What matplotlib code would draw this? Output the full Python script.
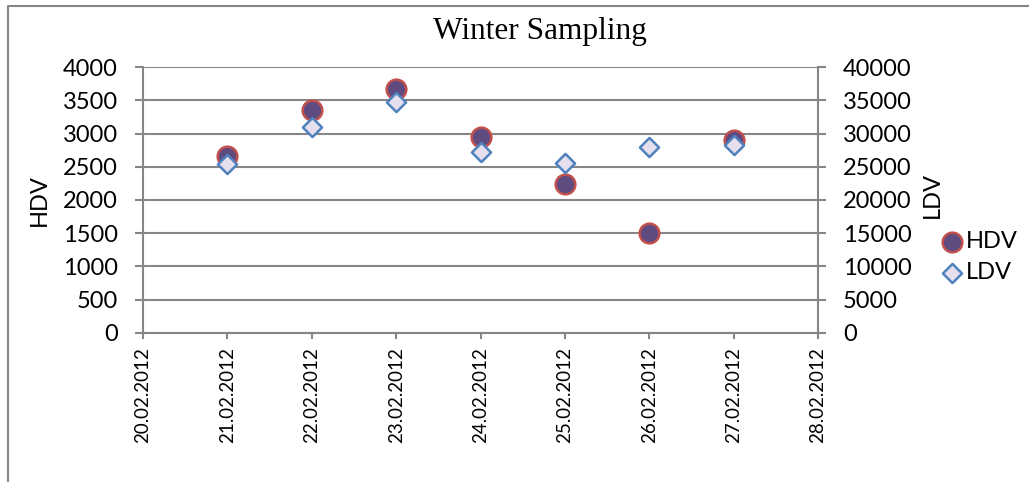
import matplotlib
matplotlib.use("Agg")
import matplotlib.pyplot as plt
import matplotlib.dates as mdates
from matplotlib.lines import Line2D
import pandas as pd

# sampling days and daily counts
dias = pd.to_datetime(["2012-02-21", "2012-02-22", "2012-02-23", "2012-02-24",
                       "2012-02-25", "2012-02-26", "2012-02-27"])
hdv = [2660, 3360, 3670, 2945, 2240, 1500, 2910]
ldv = [25450, 30960, 34730, 27200, 25530, 28030, 28250]

hdv_ticks = list(range(0, 4001, 500))
ldv_ticks = list(range(0, 40001, 5000))

cinza = "#868686"
fonte = "Lato"

fig = plt.figure(figsize=(10.29, 4.82), dpi=100)
ax = fig.add_axes([143 / 1029, 1 - 332.7 / 482, 675 / 1029, 265.4 / 482])
ax2 = ax.twinx()

ax.scatter(dias, hdv, s=200, marker="o", color="#5F4B80", edgecolors="#C0504D",
           linewidths=1.8, zorder=3, label="HDV")
ax2.scatter(dias, ldv, s=95, marker="D", color="#E6E0EE", edgecolors="#4F81BD",
            linewidths=1.8, zorder=3, label="LDV")

ax.set_xlim(pd.Timestamp("2012-02-20"), pd.Timestamp("2012-02-28"))
ax.xaxis.set_major_locator(mdates.DayLocator())
ax.xaxis.set_major_formatter(mdates.DateFormatter("%d.%m.%Y"))
for lbl in ax.get_xticklabels():
    lbl.set_rotation(90)
    lbl.set_fontfamily(fonte)

ax.set_ylim(0, 4000)
ax.set_yticks(hdv_ticks)
ax2.set_ylim(0, 40000)
ax2.set_yticks(ldv_ticks)

ax.grid(axis="y", color=cinza, linewidth=1.5)
ax.set_axisbelow(True)

for a in (ax, ax2):
    for s in a.spines.values():
        s.set_visible(False)
    a.tick_params(colors=cinza, width=1.5, length=6, labelcolor="black",
                  labelsize=17)
    for lbl in a.get_yticklabels():
        lbl.set_fontfamily(fonte)

ax.spines["left"].set_visible(True)
ax.spines["left"].set_color(cinza)
ax.spines["left"].set_linewidth(1.5)
ax.spines["bottom"].set_visible(True)
ax.spines["bottom"].set_color(cinza)
ax.spines["bottom"].set_linewidth(1.5)
ax2.spines["right"].set_visible(True)
ax2.spines["right"].set_color(cinza)
ax2.spines["right"].set_linewidth(1.5)
ax.tick_params(axis="x", length=4.5, labelsize=13.5, pad=6)
ax.tick_params(axis="y", pad=12)
ax2.tick_params(axis="y", pad=12)

ax.set_ylabel("HDV", fontfamily=fonte, fontsize=17)
ax.yaxis.set_label_coords(-0.138, 0.5)
ax2.set_ylabel("LDV", fontfamily=fonte, fontsize=17)
ax2.yaxis.set_label_coords(1.154, 0.52)

fig.text(540 / 1029, 1 - 32 / 482, "Winter Sampling", ha="center", va="center",
         fontfamily="Liberation Serif", fontsize=22.5)

# legenda com as duas séries
h1, l1 = ax.get_legend_handles_labels()
h2, l2 = ax2.get_legend_handles_labels()
fig.legend(h1 + h2, l1 + l2, loc="center left", bbox_to_anchor=(928 / 1029, 1 - 257 / 482),
           frameon=False, handletextpad=0.0, labelspacing=0.4, borderaxespad=0,
           prop={"family": fonte, "size": 17}, handlelength=1.2)

# moldura externa do gráfico
fig.add_artist(Line2D([8 / 1029, 8 / 1029, 1.0], [0.0, 1 - 5.5 / 482, 1 - 5.5 / 482],
                      transform=fig.transFigure, color=cinza, linewidth=1.5))

fig.savefig("out.png", dpi=100)
